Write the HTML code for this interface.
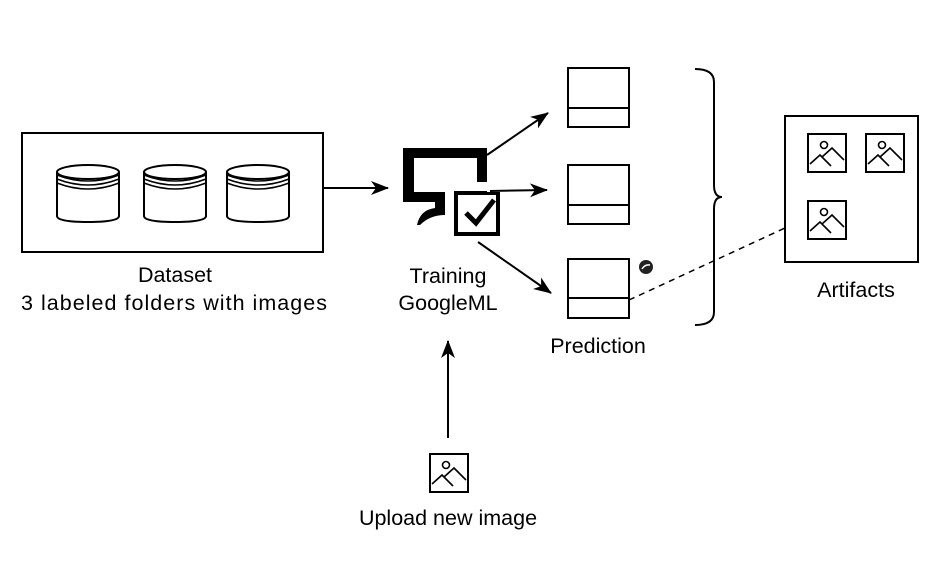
<!DOCTYPE html>
<html><head><meta charset="utf-8"><style>html,body{margin:0;padding:0;background:#fff}svg{display:block}</style></head>
<body>
<svg width="952" height="568" viewBox="0 0 952 568" xmlns="http://www.w3.org/2000/svg" font-family="Liberation Sans, Arial, sans-serif" font-size="21.5">
<defs>
<marker id="ah" markerWidth="18" markerHeight="14" refX="17" refY="7" orient="auto" markerUnits="userSpaceOnUse" viewBox="0 0 18 14">
<path d="M0,0 L18,7 L0,14 L5,7 Z" fill="#000"/></marker>
<g id="img">
<rect x="0" y="0" width="38" height="38" fill="#fff" stroke="#000" stroke-width="2"/>
<circle cx="16" cy="11" r="3.5" fill="none" stroke="#000" stroke-width="1.6"/>
<path d="M2,30 L12,21 L23,32 M14,23 L24,14 L36,26" fill="none" stroke="#000" stroke-width="1.6"/>
</g>
<g id="cyl">
<path d="M-31,-20 L-31,24 Q-31,30 0,30 Q31,30 31,24 L31,-20" fill="#fff" stroke="#000" stroke-width="2"/>
<ellipse cx="0" cy="-20" rx="31" ry="7" fill="#fff" stroke="#000" stroke-width="2"/>
<path d="M-31,-17 Q0,-5 31,-17 M-31,-13 Q0,-1 31,-13 M-31,-9 Q0,3 31,-9" fill="none" stroke="#000" stroke-width="1.5"/>
</g>
</defs>

<rect x="22" y="133" width="301" height="119" fill="#fff" stroke="#000" stroke-width="2"/>
<use href="#cyl" x="88" y="192"/>
<use href="#cyl" x="175" y="192"/>
<use href="#cyl" x="258" y="192"/>
<text x="175" y="282" text-anchor="middle">Dataset</text>
<text x="174" y="310" text-anchor="middle" textLength="306">3 labeled folders with images</text>

<line x1="323" y1="188" x2="388" y2="188" stroke="#000" stroke-width="2" marker-end="url(#ah)"/>

<path d="M403,148 L487,148 L487,182 L477,182 L477,158 L414,158 L414,192 L445,192 L445,215 Q430,215 420,225 L417,225 Q420,210 435,208 L435,202 L403,202 Z" fill="#000"/>
<rect x="456" y="193" width="42" height="41" fill="#fff" stroke="#000" stroke-width="4"/>
<path d="M466,213 L476,223 L494,200" fill="none" stroke="#000" stroke-width="5"/>
<rect x="487" y="186" width="14" height="6" fill="#fff"/>
<text x="448" y="283" text-anchor="middle">Training</text>
<text x="448" y="310" text-anchor="middle">GoogleML</text>

<line x1="487" y1="155" x2="548" y2="113" stroke="#000" stroke-width="2" marker-end="url(#ah)"/>
<line x1="490" y1="191" x2="547" y2="190" stroke="#000" stroke-width="2" marker-end="url(#ah)"/>
<line x1="478" y1="242" x2="551" y2="293" stroke="#000" stroke-width="2" marker-end="url(#ah)"/>

<g fill="#fff" stroke="#000" stroke-width="2">
<rect x="568" y="68" width="61" height="59"/><line x1="568" y1="108" x2="629" y2="108"/>
<rect x="568" y="165" width="61" height="59"/><line x1="568" y1="205" x2="629" y2="205"/>
<rect x="568" y="259" width="61" height="59"/><line x1="568" y1="298" x2="629" y2="298"/>
</g>
<circle cx="646" cy="267" r="7" fill="#222"/>
<path d="M642,269 Q645,264 650,265" stroke="#fff" stroke-width="1.5" fill="none"/>
<text x="598" y="353" text-anchor="middle">Prediction</text>

<line x1="629" y1="300" x2="785" y2="228" stroke="#000" stroke-width="1.5" stroke-dasharray="6,5"/>

<path d="M695,69 Q714,69 714,82 L714,185 Q714,197 722,197 Q714,197 714,209 L714,312 Q714,325 695,325" fill="none" stroke="#000" stroke-width="2"/>

<rect x="785" y="116" width="133" height="146" fill="#fff" stroke="#000" stroke-width="2"/>
<use href="#img" x="808" y="134"/>
<use href="#img" x="866" y="134"/>
<use href="#img" x="808" y="201"/>
<text x="856" y="297" text-anchor="middle">Artifacts</text>

<line x1="448" y1="438" x2="448" y2="341" stroke="#000" stroke-width="2" marker-end="url(#ah)"/>
<use href="#img" x="430" y="454"/>
<text x="448" y="525" text-anchor="middle">Upload new image</text>
</svg>
</body></html>
